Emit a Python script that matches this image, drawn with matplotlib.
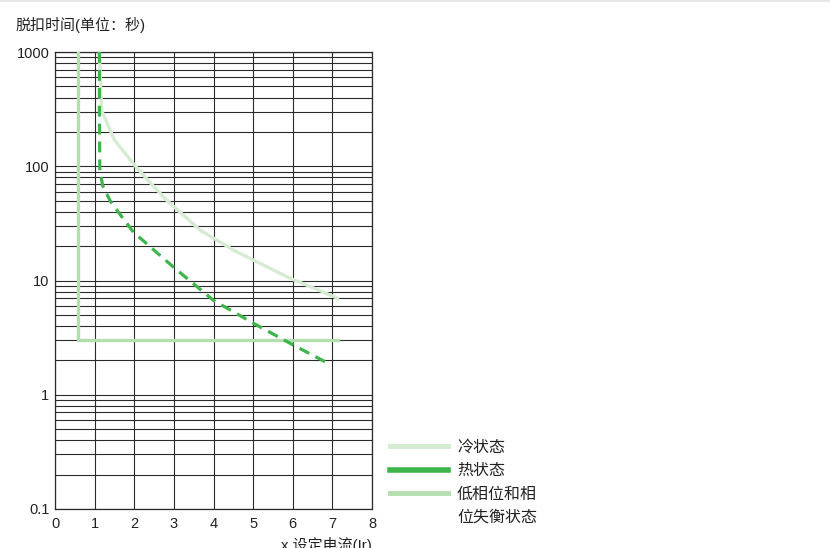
import matplotlib
matplotlib.use("Agg")
import matplotlib.pyplot as plt
from matplotlib.lines import Line2D
from matplotlib.ticker import FixedLocator, NullFormatter

plt.rcParams["font.family"] = ["Liberation Sans", "Noto Sans CJK SC", "DejaVu Sans"]

# ── Data ──────────────────────────────────────────────────────────────────
x_ticks = [0, 1, 2, 3, 4, 5, 6, 7, 8]
y_ticks = [0.1, 1, 10, 100, 1000]
y_ticklabels = ["0.1", "1", "10", "100", "1000"]

cold_x = [1.12, 1.15, 1.18, 1.5, 1.98, 2.4, 2.83, 3.67, 4.51, 5.02, 5.95, 6.6, 7.13]
cold_y = [1000, 500, 305, 170, 105, 72, 50, 27.5, 18.4, 15.0, 10.4, 8.4, 7.0]

hot_x = [1.12, 1.12, 1.13, 1.2, 1.39, 1.48, 1.98, 2.99, 4.0, 5.02, 5.95, 6.96]
hot_y = [1000, 300, 95, 68, 50, 45, 26.5, 13.1, 6.7, 4.2, 2.8, 1.83]

phase_x = [0.58, 0.58, 7.15]
phase_y = [1000, 3.0, 3.0]

# last legend label wraps onto a second row in the reference
labels = ["冷状态", "热状态", "低相位和相", "位失衡状态"]
c_cold, c_hot, c_phase = "#d6ecd2", "#3db54a", "#b5deb0"

# ── Figure ────────────────────────────────────────────────────────────────
fig = plt.figure(figsize=(8.3, 5.48), dpi=100)
ax = fig.add_axes([0.0663, 0.0712, 0.3819, 0.8338])

ax.set_yscale("log")
ax.set_xlim(0, 8)
ax.set_ylim(0.1, 1000)

ax.xaxis.set_major_locator(FixedLocator(x_ticks))
ax.yaxis.set_major_locator(FixedLocator(y_ticks))
ax.set_yticklabels(y_ticklabels)
ax.yaxis.set_minor_formatter(NullFormatter())
ax.tick_params(which="both", length=0, labelsize=10.5, colors="#222222", pad=4)
ax.tick_params(axis="x", pad=6)

ax.grid(True, which="both", axis="y", color="#2a2a2a", linewidth=0.8)
ax.grid(True, which="major", axis="x", color="#2a2a2a", linewidth=0.8)
for s in ax.spines.values():
    s.set_color("#2a2a2a")
    s.set_linewidth(0.9)

ax.plot(phase_x, phase_y, color=c_phase, linewidth=2.4, solid_joinstyle="miter", zorder=3)
ax.plot(cold_x, cold_y, color=c_cold, linewidth=2.4, zorder=3)
ax.plot(hot_x, hot_y, color=c_hot, linewidth=2.3, dashes=(3.4, 2.2), zorder=4)

fig.text(15 / 830, 1 - 25 / 548, "脱扣时间(单位：秒)", fontsize=10.8, va="center", ha="left",
         color="#222222")
fig.text(372 / 830, 1 - 537 / 548, "x 设定电流(Ir)", fontsize=10.8, va="top", ha="right",
         color="#222222")

handles = [
    Line2D([], [], color=c_cold, linewidth=3.5),
    Line2D([], [], color=c_hot, linewidth=4.0),
    Line2D([], [], color=c_phase, linewidth=3.5),
    Line2D([], [], color="none", linewidth=0),
]
leg = fig.legend(handles, labels, loc="upper left", bbox_to_anchor=(390 / 830, 1 - 440 / 548),
                 frameon=False, fontsize=11.5, handlelength=3.63, handletextpad=0.56,
                 labelspacing=0.52, borderaxespad=0, borderpad=0)
for t in leg.get_texts():
    t.set_color("#222222")

# faint page border line at the top
fig.add_artist(Line2D([0, 1], [0.998, 0.998], color="#e6e6e6", linewidth=1.5))

fig.savefig("out.png", dpi=100)
